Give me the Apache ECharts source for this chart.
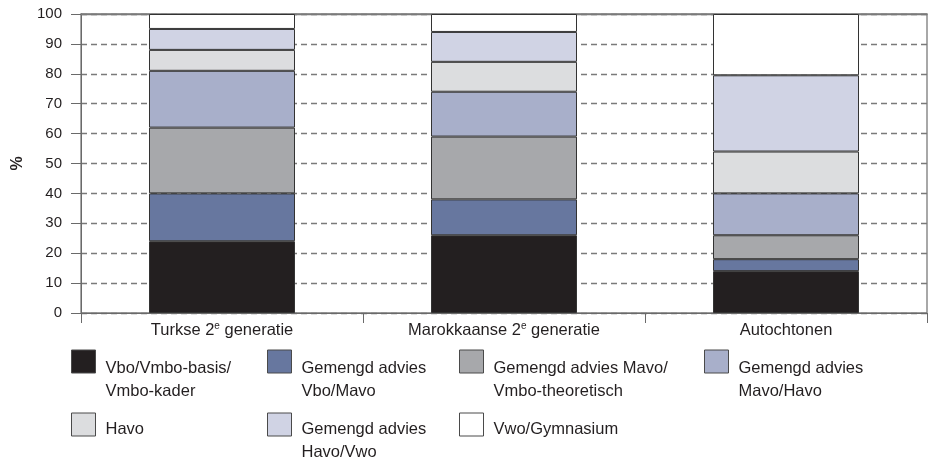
<!DOCTYPE html>
<html>
<head>
<meta charset="utf-8">
<script src="https://cdn.jsdelivr.net/npm/echarts@6/dist/echarts.min.js"></script>
<style>html,body{margin:0;padding:0;background:#fff}#c{width:933px;height:463px}</style>
</head>
<body>
<div id="c"></div>
<script>
var categories = ['Turkse 2e generatie', 'Marokkaanse 2e generatie', 'Autochtonen'];
var seriesNames = ['Vbo/Vmbo-basis/\nVmbo-kader', 'Gemengd advies\nVbo/Mavo', 'Gemengd advies Mavo/\nVmbo-theoretisch', 'Gemengd advies\nMavo/Havo', 'Havo', 'Gemengd advies\nHavo/Vwo', 'Vwo/Gymnasium'];
var vbo = [24, 26, 14];
var gemVboMavo = [16, 12, 4];
var gemMavoVmbo = [22, 21, 8];
var gemMavoHavo = [19, 15, 14];
var havo = [7, 10, 14];
var gemHavoVwo = [7, 10, 25.5];
var vwo = [5, 6, 20.5];
var yTicks = [0, 10, 20, 30, 40, 50, 60, 70, 80, 90, 100];

var values = [vbo, gemVboMavo, gemMavoVmbo, gemMavoHavo, havo, gemHavoVwo, vwo];
var colors = ['#231f20', '#67779f', '#a7a8ab', '#a8afca', '#dcdddf', '#d0d3e4', '#ffffff'];
var FONT = '"Liberation Sans", Arial, sans-serif';
var TXT = '#231f20';

var legendPos = [
  [71, 350], [267, 350], [459, 350], [704, 350],
  [71, 413], [267, 413], [459, 413]
];

var legends = seriesNames.map(function (n, i) {
  var twoLine = n.indexOf('\n') >= 0;
  var iconTop = legendPos[i][1];
  var p = twoLine ? (iconTop < 400 ? 36 : 32) : 10;
  var boxH = p + (twoLine ? 46 : 23);
  return {
    data: [n],
    left: legendPos[i][0],
    top: iconTop + 11.5 - boxH / 2,
    padding: 0,
    orient: 'horizontal',
    selectedMode: false,
    itemWidth: 24,
    itemHeight: 23,
    icon: 'rect',
    itemStyle: { borderColor: '#4a4a4a', borderWidth: 1 },
    formatter: function (name) {
      return name.split('\n').map(function (s) { return '{a|' + s + '}'; }).join('\n');
    },
    textStyle: {
      fontFamily: FONT, fontSize: 16.5, color: TXT, lineHeight: 23,
      padding: [p, 0, 0, 5], backgroundColor: 'transparent',
      rich: { a: { fontFamily: FONT, fontSize: 16.5, color: TXT, lineHeight: 23 } }
    }
  };
});

var series = seriesNames.map(function (n, i) {
  return {
    name: n,
    type: 'bar',
    stack: 'total',
    barWidth: 146,
    data: values[i],
    itemStyle: { color: colors[i], borderColor: '#333333', borderWidth: 1 },
    emphasis: { disabled: true }
  };
});

var chart = echarts.init(document.getElementById('c'), null, { renderer: 'canvas' });
chart.setOption({
  animation: false,
  backgroundColor: '#fff',
  textStyle: { fontFamily: FONT },
  grid: { left: 81, right: 6, top: 14, bottom: 150, show: true, borderColor: '#7a7a7a', borderWidth: 1.3, backgroundColor: 'transparent' },
  legend: legends,
  xAxis: [{
    type: 'category',
    data: categories,
    axisLine: { lineStyle: { color: '#6a6a6a', width: 1 } },
    axisTick: { show: true, length: 10, lineStyle: { color: '#6a6a6a' } },
    axisLabel: {
      margin: 8,
      formatter: function (v) {
        var k = v.indexOf(' 2e ');
        if (k < 0) return '{n|' + v + '}';
        return '{n|' + v.slice(0, k + 2) + '}{sup|e}{n|' + v.slice(k + 3) + '}';
      },
      rich: {
        n: { fontFamily: FONT, fontSize: 16.5, color: TXT, lineHeight: 18 },
        sup: { fontFamily: FONT, fontSize: 10, color: TXT, lineHeight: 10, verticalAlign: 'top', padding: [0, 0, 0, 0] }
      }
    }
  }, {
    type: 'category',
    data: categories,
    position: 'top',
    axisLine: { show: true, lineStyle: { color: '#7a7a7a', width: 1.3 } },
    axisTick: { show: false },
    axisLabel: { show: false },
    splitLine: { show: false }
  }],
  yAxis: {
    type: 'value',
    min: 0, max: 100, interval: 10,
    name: '%',
    nameLocation: 'middle',
    nameGap: 53,
    nameRotate: 90,
    nameTextStyle: { fontFamily: FONT, fontSize: 16, color: TXT, fontWeight: 'bold' },
    axisLine: { show: true, lineStyle: { color: '#6a6a6a', width: 1 } },
    axisTick: { show: true, length: 10, inside: false, lineStyle: { color: '#6a6a6a' } },
    axisLabel: {
      margin: 19, fontFamily: FONT, fontSize: 15, color: TXT,
      formatter: function (v) { return yTicks.indexOf(v) >= 0 ? String(v) : ''; }
    },
    splitLine: { show: true, lineStyle: { color: '#7a7a7a', type: [6, 4], width: 1.3 } }
  },
  series: series
});
</script>
</body>
</html>
